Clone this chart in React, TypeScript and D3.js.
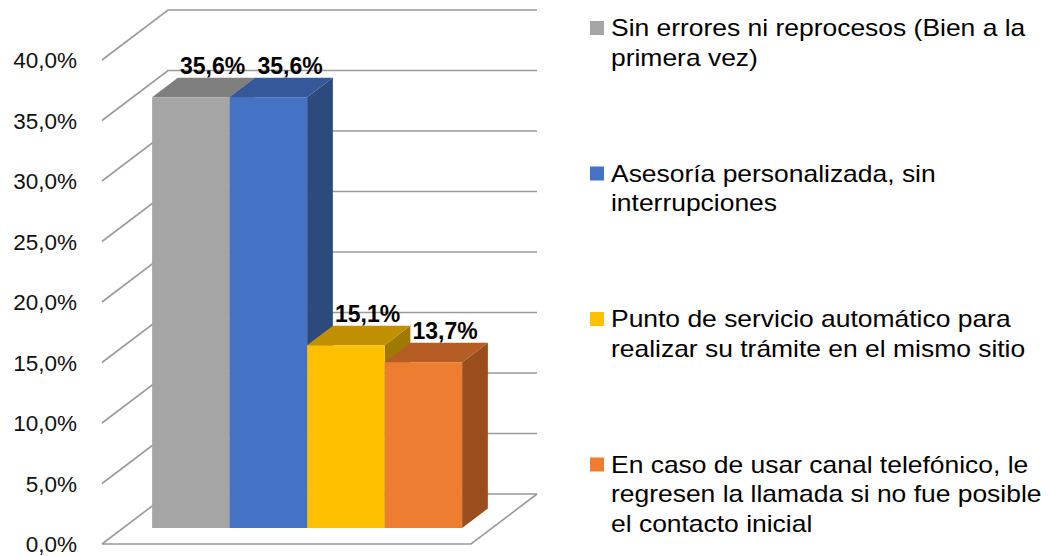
import React from "react";
import * as d3 from "d3";

const seriesNames = [
  "Sin errores ni reprocesos (Bien a la primera vez)",
  "Asesoría personalizada, sin interrupciones",
  "Punto de servicio automático para realizar su trámite en el mismo sitio",
  "En caso de usar canal telefónico, le regresen la llamada si no fue posible el contacto inicial",
];
const legendLines = [
  ["Sin errores ni reprocesos (Bien a la", "primera vez)"],
  ["Asesoría personalizada, sin", "interrupciones"],
  ["Punto de servicio automático para", "realizar su trámite en el mismo sitio"],
  ["En caso de usar canal telefónico, le", "regresen la llamada si no fue posible", "el contacto inicial"],
];
const values = [35.6, 35.6, 15.1, 13.7];
const valueLabels = ["35,6%", "35,6%", "15,1%", "13,7%"];
const tickValues = [0, 5, 10, 15, 20, 25, 30, 35, 40];
const tickLabels = ["0,0%", "5,0%", "10,0%", "15,0%", "20,0%", "25,0%", "30,0%", "35,0%", "40,0%"];
const frontColors = ["#A5A5A5", "#4472C4", "#FFC000", "#ED7D31"];
const topColors = ["#7F7F7F", "#34589A", "#C09000", "#B55D24"];
const sideColors = ["#6E6E6E", "#2C4A7E", "#9F7A00", "#9A4E1E"];

const W = 1049;
const H = 556;
const DX = 66;
const DY = -50;
const Z_FRONT = 0.32;
const Z_BACK = 0.71;

export default function App() {
  const y = d3.scaleLinear().domain([0, 40]).range([544, 60]);
  const floorX = d3.scaleLinear().domain([0, 1]).range([102, 471]);
  const xBand = d3.scaleBand<string>().domain(seriesNames).range([131, 441]).paddingInner(0).paddingOuter(0);
  const proj = (u: number, v: number, z: number): [number, number] => [u + DX * z, y(v) + DY * z];
  const poly = (pts: [number, number][]) => "M" + pts.map((p) => p.join(",")).join("L") + "Z";
  const x0f = floorX(0);
  const x1f = floorX(1);
  const gridColor = "#9A9A9A";

  const legendY = d3.scaleLinear().domain([0, 1]).range([36, 181.5]);

  return (
    <svg width={W} height={H} style={{ position: "absolute", left: 0, top: 0, background: "#fff" }}>
      {/* grid: side wall diagonals and back wall */}
      {tickValues.map((t, i) => {
        const [ax, ay] = proj(x0f, t, 0);
        const [bx, by] = proj(x0f, t, 1);
        const [cx, cy] = proj(x1f, t, 1);
        return (
          <g key={i}>
            <path d={`M${ax},${ay}L${bx},${by}L${cx},${cy}`} fill="none" stroke={gridColor} strokeWidth={1.6} />
            <text
              x={77}
              y={ay}
              dy="0.36em"
              textAnchor="end"
              fontFamily="'Liberation Sans', Arial, sans-serif"
              fontSize={22.5}
              fill="#111"
            >
              {tickLabels[i]}
            </text>
          </g>
        );
      })}
      {/* floor outline */}
      <path
        d={(() => {
          const a = proj(x0f, 0, 0);
          const b = proj(x1f, 0, 0);
          const c = proj(x1f, 0, 1);
          return `M${a.join(",")}L${b.join(",")}L${c.join(",")}`;
        })()}
        fill="none"
        stroke={gridColor}
        strokeWidth={1.6}
      />
      {/* bars */}
      {seriesNames.map((s, i) => {
        const u0 = xBand(s)!;
        const u1 = u0 + xBand.bandwidth();
        const v = values[i];
        const front = poly([proj(u0, 0, Z_FRONT), proj(u1, 0, Z_FRONT), proj(u1, v, Z_FRONT), proj(u0, v, Z_FRONT)]);
        const top = poly([proj(u0, v, Z_FRONT), proj(u1, v, Z_FRONT), proj(u1, v, Z_BACK), proj(u0, v, Z_BACK)]);
        const side = poly([proj(u1, 0, Z_FRONT), proj(u1, 0, Z_BACK), proj(u1, v, Z_BACK), proj(u1, v, Z_FRONT)]);
        return (
          <g key={s}>
            <path d={side} fill={sideColors[i]} />
            <path d={top} fill={topColors[i]} />
            <path d={front} fill={frontColors[i]} />
          </g>
        );
      })}
      {/* data labels */}
      {seriesNames.map((s, i) => {
        const uc = xBand(s)! + xBand.bandwidth() / 2;
        const [lx] = proj(uc, values[i], 0.65);
        const [, ly] = proj(uc, values[i], Z_BACK);
        return (
          <text
            key={s}
            x={lx}
            y={ly - 4}
            textAnchor="middle"
            fontFamily="'Liberation Sans', Arial, sans-serif"
            fontWeight="bold"
            fontSize={23}
            fill="#000"
          >
            {valueLabels[i]}
          </text>
        );
      })}
      {/* legend */}
      {seriesNames.map((s, i) => {
        const by = legendY(i);
        return (
          <g key={s}>
            <rect x={590} y={by - 15} width={14} height={14} fill={frontColors[i]} />
            <g transform={`translate(611,${by}) scale(1.15,1)`}>
              {legendLines[i].map((line, j) => (
                <text
                  key={j}
                  x={0}
                  y={j * 30}
                  fontFamily="'Liberation Sans', Arial, sans-serif"
                  fontSize={23}
                  fill="#000"
                >
                  {line}
                </text>
              ))}
            </g>
          </g>
        );
      })}
    </svg>
  );
}
